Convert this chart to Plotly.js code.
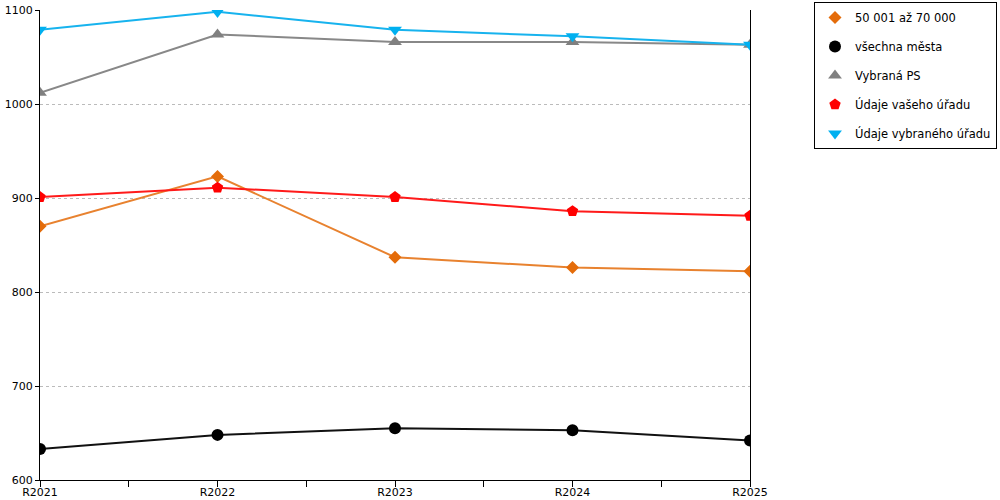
<!DOCTYPE html>
<html>
<head>
<meta charset="utf-8">
<script src="https://cdn.plot.ly/plotly-3.0.1.min.js"></script>
<style>
    html, body { margin: 0; padding: 0; background: #fff; }
    #chart { width: 1000px; height: 500px; }
</style>
</head>
<body>
<div id="chart"></div>
<script>
    // ── Data ──
    const years = ['R2021', 'R2022', 'R2023', 'R2024', 'R2025'];
    const skupina = [870, 923, 837, 826, 822];      // 50 001 až 70 000
    const vsechnaMesta = [633, 648, 655, 653, 642];
    const vybranaPS = [1012, 1074, 1066, 1066, 1063];
    const vasUrad = [901, 911, 901, 886, 881];
    const vybranyUrad = [1079, 1098, 1079, 1072, 1063];

    const xIdx = years.map((_, i) => i);

    const series = [
        { name: '50 001 až 70 000', y: skupina, line: '#e8822f', color: '#e46c0a', symbol: 'diamond', size: 10 },
        { name: 'všechna města', y: vsechnaMesta, line: '#111111', color: '#000000', symbol: 'circle', size: 12 },
        { name: 'Vybraná PS', y: vybranaPS, line: '#888888', color: '#808080', symbol: 'triangle-up', size: 12 },
        { name: 'Údaje vašeho úřadu', y: vasUrad, line: '#ff1a1a', color: '#ff0000', symbol: 'pentagon', size: 12 },
        { name: 'Údaje vybraného úřadu', y: vybranyUrad, line: '#17b3ee', color: '#00b0f0', symbol: 'triangle-down', size: 12 }
    ];

    const traces = [];
    series.forEach((s, i) => {
        // line without legend entry
        traces.push({
            x: xIdx, y: s.y,
            type: 'scatter', mode: 'lines',
            line: { color: s.line, width: 2 },
            showlegend: false, hoverinfo: 'skip',
            legendgroup: 'g' + i
        });
        // markers carry the legend entry
        traces.push({
            x: xIdx, y: s.y, name: s.name,
            type: 'scatter', mode: 'markers',
            marker: { color: s.color, symbol: s.symbol, size: s.size },
            legendgroup: 'g' + i
        });
    });

    const axisFont = { family: 'DejaVu Sans', size: 11, color: '#000' };

    Plotly.newPlot('chart', traces, {
        width: 1000, height: 500,
        margin: { t: 10, r: 250, b: 20, l: 40, autoexpand: false },
        paper_bgcolor: '#fff', plot_bgcolor: '#fff',
        font: axisFont,
        xaxis: {
            range: [0, years.length - 1],
            tickvals: xIdx, ticktext: years,
            showgrid: false, zeroline: false,
            showline: true, linecolor: '#000', linewidth: 1,
            ticks: 'outside', ticklen: 6, tickcolor: '#000',
            ticklabelstandoff: -4,
            minor: { dtick: 0.5, ticks: 'outside', ticklen: 6, tickcolor: '#000', showgrid: false },
            tickfont: axisFont
        },
        yaxis: {
            range: [600, 1100], dtick: 100,
            showgrid: true, gridcolor: '#bbbbbb', griddash: 'dot', gridwidth: 1,
            zeroline: false,
            showline: true, linecolor: '#000', linewidth: 1, mirror: true,
            ticks: 'outside', ticklen: 4, tickcolor: '#000',
            tickfont: axisFont
        },
        showlegend: true,
        legend: {
            xref: 'container', yref: 'container',
            x: 0.997, xanchor: 'right', y: 0.996, yanchor: 'top',
            bordercolor: '#000', borderwidth: 1, bgcolor: '#fff',
            font: { family: 'DejaVu Sans', size: 11.5, color: '#000' },
            traceorder: 'grouped', tracegroupgap: 10,
            itemwidth: 30
        }
    }, { displayModeBar: false, staticPlot: true });
</script>
</body>
</html>
